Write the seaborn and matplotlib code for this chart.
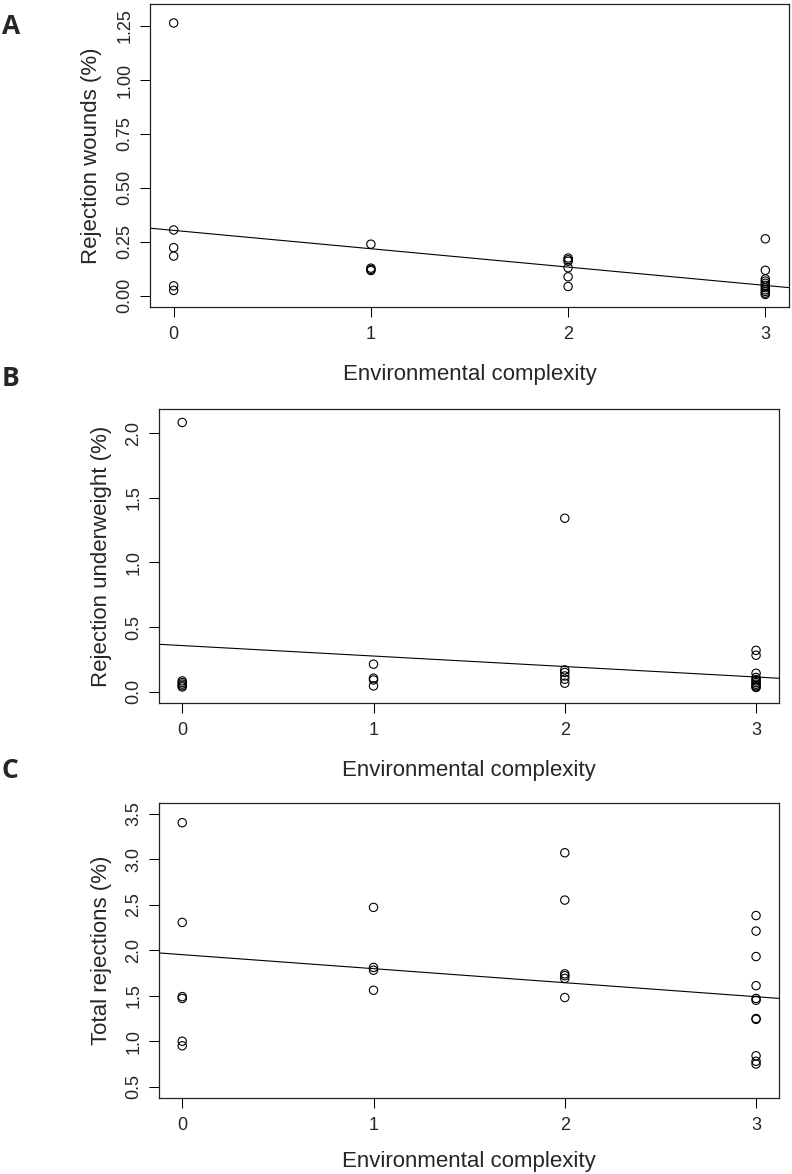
import numpy as np
import pandas as pd
import matplotlib
matplotlib.use("Agg")
import matplotlib.pyplot as plt
import seaborn as sns

# complessita' ambientale per ogni punto
complessita = [0] * 6 + [1] * 4 + [2] * 6 + [3] * 11

ferite = [1.264, 0.305, 0.223, 0.184, 0.046, 0.025,
          0.239, 0.128, 0.122, 0.117,
          0.175, 0.167, 0.160, 0.130, 0.088, 0.043,
          0.264, 0.118, 0.078, 0.068, 0.058, 0.048, 0.038, 0.028, 0.020, 0.012, 0.006]

sottopeso = [2.082, 0.085, 0.072, 0.060, 0.048, 0.038,
             0.214, 0.106, 0.092, 0.046,
             1.342, 0.170, 0.150, 0.123, 0.098, 0.067,
             0.321, 0.283, 0.144, 0.111, 0.095, 0.085, 0.072, 0.059, 0.048, 0.040, 0.034]

totale = [3.40, 2.305, 1.49, 1.47, 1.00, 0.95,
          2.47, 1.81, 1.78, 1.56,
          3.07, 2.55, 1.74, 1.72, 1.69, 1.48,
          2.38, 2.21, 1.93, 1.61, 1.47, 1.45, 1.25, 1.24, 0.84, 0.78, 0.75]

# rette di regressione (intercetta, pendenza)
retta_ferite = (0.303, -0.085)
retta_sottopeso = (0.358, -0.081)
retta_totale = (1.951, -0.154)

x_ticks = [0, 1, 2, 3]
y_ticks_a = [0.00, 0.25, 0.50, 0.75, 1.00, 1.25]
y_ticks_b = [0.0, 0.5, 1.0, 1.5, 2.0]
y_ticks_c = [0.5, 1.0, 1.5, 2.0, 2.5, 3.0, 3.5]

df = pd.DataFrame({
    "complessita": complessita,
    "ferite": ferite,
    "sottopeso": sottopeso,
    "totale": totale,
})

sns.set_style("white")
plt.rcParams["font.family"] = ["Liberation Sans", "DejaVu Sans"]

fig = plt.figure(figsize=(7.92, 11.74), dpi=100)

pannelli = [
    ("A", "ferite", "Rejection wounds (%)", retta_ferite, y_ticks_a, "{:.2f}",
     (-0.052, 1.352), [0.1894, 0.7385, 0.8068, 0.2581], 0.9775),
    ("B", "sottopeso", "Rejection underweight (%)", retta_sottopeso, y_ticks_b, "{:.1f}",
     (-0.084, 2.184), [0.2011, 0.4014, 0.7825, 0.2500], 0.6772),
    ("C", "totale", "Total rejections (%)", retta_totale, y_ticks_c, "{:.1f}",
     (0.38, 3.62), [0.2011, 0.0650, 0.7825, 0.2513], 0.3433),
]

for lettera, colonna, etichetta, retta, yt, fmt, ylim, pos, y_lettera in pannelli:
    ax = fig.add_axes(pos)
    sns.scatterplot(data=df, x="complessita", y=colonna, ax=ax, marker="o", s=36,
                    facecolors="none", edgecolor="black", linewidth=0.8, legend=False)
    ax.axline((0, retta[0]), slope=retta[1], color="black", linewidth=0.8)

    ax.set_xlim(-0.12, 3.12)
    ax.set_ylim(*ylim)
    ax.set_xticks(x_ticks, labels=[str(t) for t in x_ticks], fontsize=13)
    ax.set_yticks(yt, labels=[fmt.format(t) for t in yt], fontsize=13,
                  rotation=90, va="center")
    ax.tick_params(axis="both", length=7, width=0.75, color="black",
                   direction="out", left=True, bottom=True)
    ax.tick_params(axis="x", pad=7)
    ax.tick_params(axis="y", pad=5)

    ax.set_xlabel("Environmental complexity", fontsize=16,
                  labelpad=15 if lettera != "C" else 12)
    ax.set_ylabel(etichetta, fontsize=16, labelpad=10)

    for lato in ax.spines.values():
        lato.set_visible(True)
        lato.set_color("#222222")
        lato.set_linewidth(0.9)

    fig.text(0.002, y_lettera, lettera, fontsize=19, fontweight="bold",
             family=["Open Sans", "DejaVu Sans"], va="center", ha="left")

fig.savefig("out.png", dpi=100)
